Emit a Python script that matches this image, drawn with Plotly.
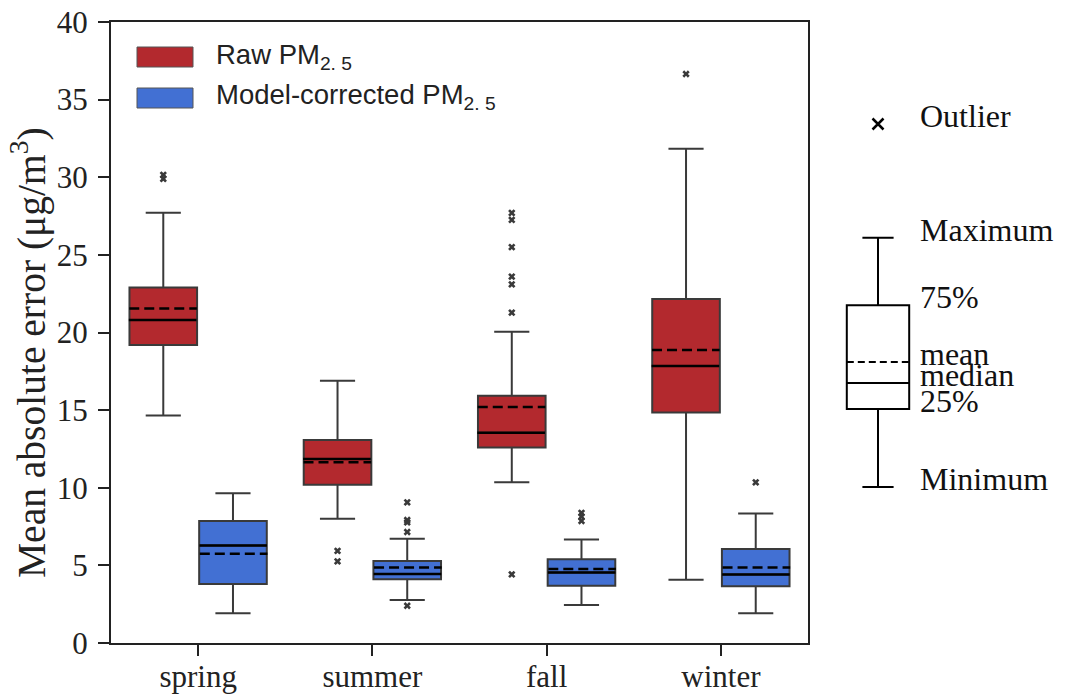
import plotly.graph_objects as go

# ---------------- data ----------------
seasons = ["spring", "summer", "fall", "winter"]

raw_lower = [14.65, 8.0, 10.35, 4.08]
raw_q1 = [19.2, 10.2, 12.6, 14.85]
raw_median = [20.8, 11.85, 13.55, 17.85]
raw_mean = [21.55, 11.65, 15.2, 18.88]
raw_q3 = [22.9, 13.08, 15.93, 22.16]
raw_upper = [27.72, 16.9, 20.05, 31.84]
raw_out_season = ["spring", "spring", "summer", "summer", "fall", "fall", "fall",
                  "fall", "fall", "fall", "fall", "winter"]
raw_out_value = [30.15, 29.9, 5.93, 5.26, 27.7, 27.25, 25.5, 23.6, 23.1, 21.28, 4.42, 36.65]

cor_lower = [1.91, 2.77, 2.44, 1.91]
cor_q1 = [3.8, 4.1, 3.68, 3.65]
cor_median = [6.28, 4.44, 4.54, 4.42]
cor_mean = [5.75, 4.87, 4.76, 4.87]
cor_q3 = [7.86, 5.28, 5.39, 6.05]
cor_upper = [9.64, 6.72, 6.67, 8.34]
cor_out_season = ["summer", "summer", "summer", "summer", "summer",
                  "fall", "fall", "fall", "winter"]
cor_out_value = [9.06, 7.92, 7.77, 7.15, 2.4, 8.38, 8.14, 7.86, 10.35]

# key (explanatory box on the right)
key_lower = [10.05]
key_q1 = [15.07]
key_median = [16.75]
key_mean = [18.1]
key_q3 = [21.75]
key_upper = [26.1]
key_outlier = [33.43]
key_labels = ["Outlier", "Maximum", "75%", "mean", "median", "25%", "Minimum"]
key_label_values = [33.43, 26.1, 21.75, 18.1, 16.75, 15.07, 10.05]

series_names = ["Raw PM<sub>2. 5</sub>", "Model-corrected PM<sub>2. 5</sub>"]
y_title = "Mean absolute error (μg/m<sup>3</sup>)"
RED = "#b3292e"
BLUE = "#4270d3"
EDGE = "#3a3a3a"
SERIF = "Liberation Serif"
SANS = "Liberation Sans"

BOXGAP = 0.2
GROUPGAP = 0.03
NGROUPS = 2
HALF_W = 0.5 * (1 - BOXGAP) * (1 - GROUPGAP) / NGROUPS


def group_offset(k):
    return 2 * 0.5 * (-0.5 + (k + 0.5) / NGROUPS) * (1 - BOXGAP)


fig = go.Figure()

series = [
    ("raw", RED, raw_q1, raw_median, raw_q3, raw_lower, raw_upper, raw_mean,
     raw_out_season, raw_out_value),
    ("cor", BLUE, cor_q1, cor_median, cor_q3, cor_lower, cor_upper, cor_mean,
     cor_out_season, cor_out_value),
]

for k, (gid, col, q1, med, q3, lo, hi, mn, os_, ov) in enumerate(series):
    fig.add_trace(go.Box(
        x=seasons, q1=q1, median=med, q3=q3, lowerfence=lo, upperfence=hi,
        boxpoints=False, name=series_names[k], fillcolor=col,
        line=dict(color=EDGE, width=2), whiskerwidth=0.52,
        offsetgroup=gid, alignmentgroup="main",
        showlegend=False, hoverinfo="skip"))

for k, (gid, col, q1, med, q3, lo, hi, mn, os_, ov) in enumerate(series):
    fig.add_trace(go.Scatter(
        x=os_, y=ov, mode="markers", offsetgroup=gid, alignmentgroup="main",
        marker=dict(symbol="x", size=6.5, color="#3a3a3a", line=dict(width=0)),
        showlegend=False, hoverinfo="skip"))

# median (solid black) and mean (dashed black) lines over each box,
# placed on a numeric axis that overlays the category axis exactly
for k, (gid, col, q1, med, q3, lo, hi, mn, os_, ov) in enumerate(series):
    off = group_offset(k)
    for vals, dash in ((med, "solid"), (mn, "10px,5px")):
        xs, ys = [], []
        for i, v in enumerate(vals):
            xs += [i + off - HALF_W, i + off + HALF_W, None]
            ys += [v, v, None]
        fig.add_trace(go.Scatter(
            x=xs, y=ys, mode="lines", xaxis="x3", yaxis="y",
            line=dict(color="black", width=2.5, dash=dash),
            showlegend=False, hoverinfo="skip"))

# key box
fig.add_trace(go.Box(
    x=[0], q1=key_q1, median=key_median, q3=key_q3,
    lowerfence=key_lower, upperfence=key_upper,
    boxpoints=False, xaxis="x2", yaxis="y2", width=0.78,
    offsetgroup="key", alignmentgroup="key",
    fillcolor="white", line=dict(color="black", width=2), whiskerwidth=0.5,
    showlegend=False, hoverinfo="skip"))
fig.add_trace(go.Scatter(
    x=[-0.39, 0.39], y=key_mean * 2, mode="lines", xaxis="x2", yaxis="y2",
    line=dict(color="black", width=2, dash="7px,4px"),
    showlegend=False, hoverinfo="skip"))
fig.add_trace(go.Scatter(
    x=[0], y=key_outlier, mode="markers", xaxis="x2", yaxis="y2",
    marker=dict(symbol="x-thin", size=11, line=dict(width=2.5, color="black")),
    showlegend=False, hoverinfo="skip"))

W, H = 1067, 698
ML, MR, MT, MB = 111, 10, 22, 55
PW = W - ML - MR
PH = H - MT - MB


def px(xp):
    return (xp - ML) / PW


def py(yp):
    return (H - MB - yp) / PH


axis_common = dict(
    showline=True, linecolor="#222222", linewidth=2, mirror=True,
    ticks="outside", ticklen=11, tickwidth=2, tickcolor="#222222",
    showgrid=False, zeroline=False, automargin=False,
    tickfont=dict(family=SERIF, size=31, color="#222222"),
)

annotations = []
for lab, val in zip(key_labels, key_label_values):
    annotations.append(dict(
        text=lab, xref="paper", yref="y2", x=px(918), y=val,
        xanchor="left", yanchor="middle", yshift=8, showarrow=False,
        font=dict(family=SERIF, size=32, color="#111111")))

shapes = []
legend_rows = [(RED, 47, 67, 57), (BLUE, 88, 108, 98)]
for (col, y0, y1, yc), nm in zip(legend_rows, series_names):
    shapes.append(dict(type="rect", xref="paper", yref="paper",
                       x0=px(137), x1=px(193), y0=py(y1), y1=py(y0),
                       fillcolor=col, line=dict(color="#555555", width=1)))
    annotations.append(dict(
        text=nm, xref="paper", yref="paper", x=px(214), y=py(yc),
        xanchor="left", yanchor="middle", yshift=1, showarrow=False,
        font=dict(family=SANS, size=27.5, color="#222222")))

# y-axis title
annotations.append(dict(
    text=y_title, xref="paper", yref="paper", x=px(29), y=py(353),
    xanchor="center", yanchor="middle", textangle=-90, showarrow=False,
    font=dict(family=SERIF, size=39.5, color="#222222")))

main_domain = [0, px(808)]
fig.update_layout(
    width=W, height=H,
    margin=dict(l=ML, r=MR, t=MT, b=MB, pad=0),
    paper_bgcolor="white", plot_bgcolor="white",
    boxmode="group", boxgap=BOXGAP, boxgroupgap=GROUPGAP,
    scattermode="group", scattergap=BOXGAP,
    xaxis=dict(domain=main_domain, type="category",
               categoryorder="array", categoryarray=seasons,
               range=[-0.5, 3.5], ticklabelstandoff=-6, **axis_common),
    xaxis3=dict(domain=main_domain, overlaying="x", anchor="y",
                range=[-0.5, 3.5], visible=False),
    yaxis=dict(range=[0, 40], dtick=5, ticklabelstandoff=4, **axis_common),
    xaxis2=dict(domain=[px(838), px(918)], anchor="y2", visible=False,
                range=[-0.5, 0.5]),
    yaxis2=dict(domain=[0, 1], anchor="x2", visible=False, range=[0, 40]),
    shapes=shapes,
    annotations=annotations,
    showlegend=False,
)

fig.write_html("out.html")
